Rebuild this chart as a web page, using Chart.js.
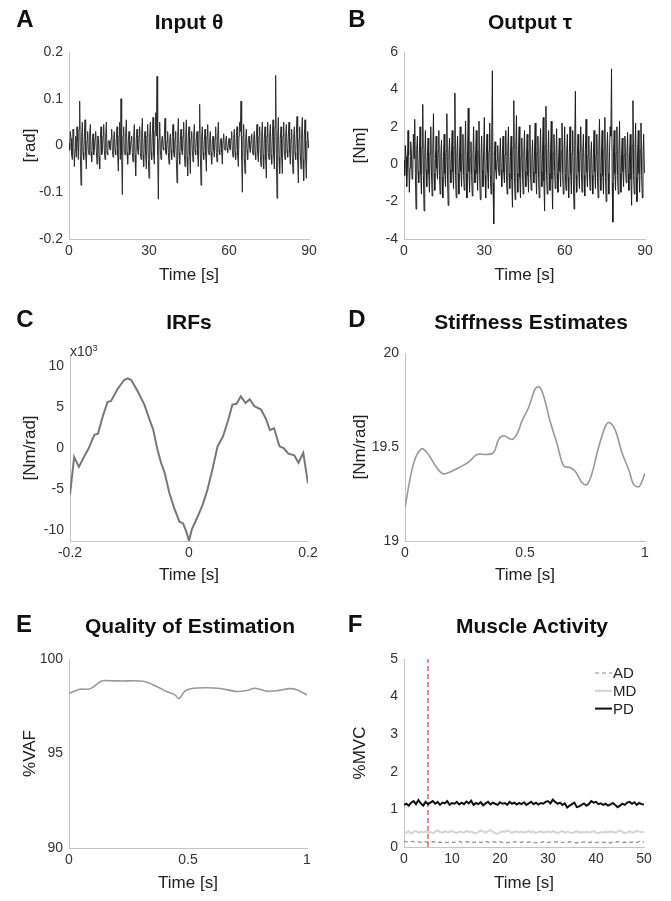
<!DOCTYPE html>
<html>
<head>
<meta charset="utf-8">
<script src="https://cdn.jsdelivr.net/npm/chart.js@4.4.1/dist/chart.umd.min.js"></script>
<style>
  body { margin: 0; background: #fff; width: 671px; height: 901px; position: relative; overflow: hidden;
         font-family: "Liberation Sans", Arial, sans-serif; }
  canvas { position: absolute; }
  .letter, .title { position: absolute; font-weight: bold; color: #111; line-height: 1;
                    transform: translate(-50%, -50%); white-space: nowrap; }
  .letter { font-size: 24px; }
  .title { font-size: 21px; }
  .exp { position: absolute; font-size: 14px; color: #333; line-height: 1; transform: translateY(-50%); }
  .exp sup { font-size: 9px; }
</style>
</head>
<body>
<canvas id="chartA" width="335" height="290" style="left:0;top:0"></canvas>
<canvas id="chartB" width="336" height="290" style="left:335px;top:0"></canvas>
<canvas id="chartC" width="335" height="290" style="left:0;top:300px"></canvas>
<canvas id="chartD" width="336" height="290" style="left:335px;top:300px"></canvas>
<canvas id="chartE" width="335" height="301" style="left:0;top:600px"></canvas>
<canvas id="chartF" width="336" height="301" style="left:335px;top:600px"></canvas>

<div class="letter" style="left:25px;top:18.5px">A</div>
<div class="title" style="left:189px;top:21px">Input θ</div>
<div class="letter" style="left:357px;top:18.5px">B</div>
<div class="title" style="left:530px;top:21px">Output τ</div>
<div class="letter" style="left:25px;top:319px">C</div>
<div class="title" style="left:189px;top:321px">IRFs</div>
<div class="exp" style="left:70px;top:351px">x10<sup>3</sup></div>
<div class="letter" style="left:357px;top:319px">D</div>
<div class="title" style="left:531px;top:321px">Stiffness Estimates</div>
<div class="letter" style="left:24px;top:624px">E</div>
<div class="title" style="left:190px;top:625px">Quality of Estimation</div>
<div class="letter" style="left:355px;top:624px">F</div>
<div class="title" style="left:532px;top:625px">Muscle Activity</div>

<script>
// A: input angle [rad], samples at 0, 0.5, ... 90 s
const inputTheta = [
  0.005, 0.03, -0.02, 0.035, -0.045, 0.02, 0.04, -0.03, 0.095, -0.085,
  0.05, -0.03, 0.055, -0.05, 0.03, -0.02, 0.045, -0.035, 0.025, -0.01,
  0.03, -0.04, 0.02, -0.05, 0.04, -0.015, 0.045, -0.03, 0.05, -0.02,
  0.01, -0.01, 0.035, -0.025, 0.03, -0.02, 0.04, -0.055, 0.05, 0.1,
  -0.105, 0.04, -0.02, 0.055, -0.04, 0.03, -0.01, 0.02, -0.035, 0.045,
  -0.065, 0.035, -0.02, 0.04, -0.03, 0.058, -0.045, 0.03, -0.05, 0.045,
  -0.07, 0.05, -0.03, 0.06, -0.04, 0.07, 0.148, -0.115, 0.05, -0.03,
  0.02, -0.01, 0.058, -0.02, 0.03, -0.04, 0.025, -0.03, 0.045, -0.025,
  0.03, -0.08, 0.058, -0.04, 0.035, -0.02, 0.05, -0.045, 0.055, -0.065,
  0.04, -0.06, 0.03, -0.035, 0.045, -0.02, 0.03, -0.045, 0.088, -0.085,
  0.04, -0.03, 0.035, -0.055, 0.045, -0.02, 0.03, -0.04, 0.02, -0.025,
  0.04, -0.035, 0.05, -0.02, 0.015, -0.04, 0.025, -0.01, 0.02, -0.015,
  0.015, -0.01, 0.03, -0.025, 0.035, -0.03, 0.04, -0.045, 0.05, 0.095,
  -0.1, 0.045, -0.06, 0.035, -0.03, 0.02, -0.015, 0.025, -0.02, 0.03,
  -0.03, 0.045, -0.035, 0.04, -0.045, 0.05, -0.05, 0.04, -0.07, 0.05,
  -0.03, 0.045, -0.04, 0.055, -0.05, 0.15, -0.113, 0.06, -0.06, 0.04,
  -0.06, 0.05, -0.03, 0.045, -0.025, 0.05, -0.04, 0.035, -0.06, 0.04,
  -0.03, 0.062, -0.08, 0.04, -0.05, 0.06, -0.075, 0.055, -0.07, 0.03, 0.01
];
// A: in-between samples at 0.25, 0.75, ... 89.75 s
const inputThetaMid = [
  -0.01, 0.015, -0.03, 0.02, -0.01, -0.025, 0.01, 0.035, -0.02, 0.02,
  -0.015, 0.02, -0.02, 0.01, -0.01, 0.025, -0.015, 0.01, -0.02, 0.015,
  -0.01, 0.02, -0.025, 0.015, -0.02, 0.02, -0.01, 0.02, -0.015, 0.01,
  -0.005, 0.015, -0.01, 0.015, -0.01, 0.015, -0.02, 0.02, -0.03, -0.02,
  0.02, -0.015, 0.025, -0.015, 0.01, -0.02, 0.01, -0.015, 0.02, -0.02,
  0.015, -0.01, 0.02, -0.015, 0.025, -0.02, 0.015, -0.02, 0.02, -0.03,
  0.02, -0.015, 0.025, -0.02, 0.03, 0.02, -0.02, 0.015, -0.01, 0.01,
  -0.005, 0.02, -0.015, 0.01, -0.015, 0.01, -0.01, 0.02, -0.015, 0.015,
  -0.03, 0.02, -0.015, 0.01, -0.01, 0.02, -0.02, 0.015, -0.025, 0.02,
  -0.02, 0.015, -0.01, 0.02, -0.01, 0.015, -0.02, 0.03, -0.02, 0.02,
  -0.015, 0.01, -0.02, 0.02, -0.01, 0.015, -0.015, 0.01, -0.01, 0.015,
  -0.015, 0.02, -0.01, 0.005, -0.015, 0.01, -0.005, 0.01, -0.005, 0.005,
  -0.005, 0.015, -0.01, 0.015, -0.015, 0.02, -0.02, 0.02, 0.03, -0.03,
  0.02, -0.025, 0.015, -0.01, 0.01, -0.005, 0.01, -0.01, 0.015, -0.015,
  0.02, -0.015, 0.02, -0.02, 0.02, -0.02, 0.015, -0.03, 0.02, -0.015,
  0.02, -0.02, 0.02, -0.02, 0.04, -0.02, 0.02, -0.025, 0.015, -0.025,
  0.02, -0.01, 0.02, -0.01, 0.02, -0.015, 0.015, -0.025, 0.015, -0.015,
  0.025, -0.03, 0.015, -0.02, 0.025, -0.03, 0.02, -0.03, 0.01, -0.005
];

// B: output torque [Nm], same sampling as A
const outputTau = [
  0.2, 1.0, -1.2, 1.8, -1.5, 1.2, -0.8, 1.6, 2.4, -2.4,
  1.5, -1.0, 2.0, -1.6, 3.2, -2.5, 1.8, -1.2, 1.4, -1.5,
  2.0, -1.7, 2.7, -1.4, 1.5, -0.8, 1.8, -1.6, 1.3, -1.8,
  1.6, -1.2, 2.7, -2.2, 1.4, -1.0, 1.8, -1.3, 3.8, -1.8,
  1.5, -1.6, 2.0, -1.2, 1.6, -1.4, 2.3, -1.8, 3.0, -1.5,
  1.2, -1.7, 2.0, -1.0, 1.8, -1.4, 2.3, -1.9, 1.5, -1.2,
  2.5, -1.8, 1.6, -1.3, 2.2, -1.6, 5.0, -3.2, 1.2, -0.8,
  1.0, -0.6, 1.4, -1.2, 1.5, -1.0, 1.8, -1.6, 2.0, -1.3,
  1.5, -2.3, 3.4, -1.9, 2.6, -1.5, 2.0, -1.8, 1.4, -1.6,
  1.8, -1.2, 1.6, -1.5, 2.1, -1.4, 1.3, -1.0, 2.2, -1.6,
  1.5, -1.8, 1.9, -1.2, 2.5, -2.5, 3.1, -1.6, 1.8, -1.4,
  2.3, -2.4, 1.6, -1.3, 1.9, -1.5, 1.4, -1.2, 2.2, -1.6,
  2.0, -1.4, 1.6, -1.8, 2.0, -1.6, 1.8, -2.4, 3.9, -1.5,
  1.6, -1.3, 2.0, -1.5, 1.6, -1.7, 2.4, -1.2, 1.5, -1.4,
  1.2, -1.6, 1.8, -1.3, 1.6, -1.8, 2.4, -1.4, 1.8, -1.6,
  2.5, -2.0, 1.7, -1.6, 2.0, 5.1, -3.1, 1.8, -1.4, 2.0,
  -1.6, 2.3, -1.5, 1.4, -1.2, 1.5, -1.0, 1.7, -1.4, 1.6,
  -2.2, 3.4, -1.6, 2.2, -2.0, 1.8, -1.5, 2.2, -1.8, 1.6, -0.5
];
const outputTauMid = [
  -0.6, 0.4, -0.3, 0.5, -0.2, 0.6, -0.7, 0.3, -0.5, 0.8,
  -0.4, 0.6, -0.5, 0.9, -0.6, 0.5, -0.3, 0.4, -0.5, 0.6,
  -0.4, 0.8, -0.5, 0.3, -0.2, 0.7, -0.6, 0.5, -0.7, 0.4,
  -0.5, 0.7, -0.8, 0.5, -0.3, 0.6, -0.4, 0.9, -0.6, 0.5,
  -0.5, 0.6, -0.4, 0.5, -0.6, 0.7, -0.5, 0.8, -0.4, 0.3,
  -0.6, 0.5, -0.3, 0.6, -0.5, 0.7, -0.6, 0.4, -0.3, 0.8,
  -0.6, 0.5, -0.4, 0.7, -0.5, 1.2, -1.0, 0.4, -0.3, 0.2,
  -0.2, 0.4, -0.3, 0.5, -0.4, 0.5, -0.6, 0.7, -0.5, 0.4,
  -0.8, 0.9, -0.7, 0.8, -0.5, 0.6, -0.7, 0.4, -0.5, 0.6,
  -0.4, 0.5, -0.6, 0.7, -0.5, 0.3, -0.4, 0.7, -0.5, 0.6,
  -0.7, 0.6, -0.4, 0.8, -0.9, 1.0, -0.6, 0.5, -0.5, 0.7,
  -0.8, 0.6, -0.4, 0.6, -0.5, 0.4, -0.4, 0.7, -0.6, 0.7,
  -0.5, 0.6, -0.7, 0.6, -0.5, 0.6, -0.9, 1.0, -0.6, 0.5,
  -0.4, 0.7, -0.5, 0.6, -0.6, 0.8, -0.4, 0.5, -0.5, 0.4,
  -0.6, 0.6, -0.4, 0.5, -0.7, 0.8, -0.5, 0.6, -0.6, 0.8,
  -0.7, 0.6, -0.5, 0.7, 1.5, -1.0, 0.7, -0.5, 0.6, -0.6,
  0.7, -0.5, 0.5, -0.4, 0.5, -0.3, 0.6, -0.5, 0.6, -0.8,
  1.0, -0.6, 0.8, -0.7, 0.6, -0.5, 0.8, -0.6, 0.5, -0.3
];
const sampleStep = 0.5;

// C: impulse response [x10^3 Nm/rad]
const irfTime = [
  -0.2, -0.193, -0.185, -0.176, -0.169, -0.159, -0.153, -0.145, -0.137, -0.131,
  -0.12, -0.109, -0.103, -0.097, -0.086, -0.075, -0.067, -0.06, -0.053, -0.047,
  -0.041, -0.033, -0.025, -0.016, -0.01, -0.005, 0, 0.005, 0.015, 0.023,
  0.031, 0.04, 0.048, 0.057, 0.065, 0.073, 0.08, 0.087, 0.095, 0.102,
  0.11, 0.121, 0.129, 0.136, 0.143, 0.152, 0.159, 0.167, 0.177, 0.184,
  0.192, 0.2
];
const irfValue = [
  -5.7, -1.1, -2.3, -1.0, -0.1, 1.6, 1.75, 3.85, 5.6, 5.75,
  7.2, 8.3, 8.5, 8.3, 6.9, 5.3, 3.6, 2.2, -0.2, -1.8,
  -3.0, -5.5, -7.3, -9.0, -9.2, -10.1, -11.3, -9.9, -8.3, -6.9,
  -5.1, -2.4, 0.2, 1.4, 3.2, 5.3, 5.4, 6.3, 5.5, 5.95,
  5.1, 4.7, 3.6, 2.2, 2.4, 0.2, 0.0, -0.7, -0.9, -1.8,
  -0.6, -4.3
];

// D: stiffness estimates [Nm/rad]
const stiffTime = [
  0, 0.035, 0.068, 0.092, 0.127, 0.154, 0.175, 0.224, 0.265, 0.3,
  0.335, 0.369, 0.39, 0.411, 0.446, 0.467, 0.488, 0.515, 0.543, 0.56,
  0.578, 0.606, 0.633, 0.661, 0.689, 0.71, 0.738, 0.758, 0.779, 0.807,
  0.835, 0.851, 0.876, 0.904, 0.932, 0.953, 0.976, 1
];
const stiffValue = [
  19.18, 19.41, 19.49, 19.47, 19.40, 19.36, 19.36, 19.39, 19.42, 19.46,
  19.46, 19.47, 19.54, 19.56, 19.54, 19.57, 19.64, 19.71, 19.81, 19.82,
  19.77, 19.63, 19.52, 19.40, 19.39, 19.37, 19.31, 19.30, 19.36, 19.50,
  19.61, 19.63, 19.59, 19.47, 19.38, 19.30, 19.29, 19.36
];

// E: variance accounted for [%]
const vafTime = [
  0, 0.046, 0.08, 0.1, 0.137, 0.172, 0.214, 0.312, 0.368, 0.41,
  0.445, 0.462, 0.487, 0.523, 0.579, 0.635, 0.705, 0.747, 0.782, 0.831,
  0.873, 0.929, 0.957, 1
];
const vafValue = [
  98.18, 98.4, 98.4, 98.5, 98.84, 98.85, 98.84, 98.82, 98.55, 98.28,
  98.1, 97.9, 98.3, 98.45, 98.48, 98.44, 98.28, 98.33, 98.45, 98.3,
  98.32, 98.43, 98.37, 98.1
];

// F: muscle activity [%MVC], sampled every 0.5 s from 0 to 50 s
const emgAD = [
  0.15, 0.14, 0.13, 0.15, 0.14, 0.13, 0.14, 0.12, 0.13, 0.14,
  0.13, 0.12, 0.14, 0.13, 0.12, 0.13, 0.11, 0.13, 0.12, 0.14,
  0.13, 0.12, 0.14, 0.15, 0.13, 0.12, 0.14, 0.13, 0.15, 0.12,
  0.13, 0.14, 0.12, 0.13, 0.15, 0.13, 0.12, 0.14, 0.13, 0.12,
  0.14, 0.12, 0.13, 0.11, 0.13, 0.12, 0.14, 0.13, 0.12, 0.13,
  0.14, 0.12, 0.13, 0.14, 0.12, 0.11, 0.13, 0.12, 0.14, 0.13,
  0.12, 0.13, 0.12, 0.14, 0.13, 0.11, 0.12, 0.13, 0.12, 0.14,
  0.13, 0.12, 0.11, 0.13, 0.12, 0.14, 0.13, 0.12, 0.13, 0.11,
  0.12, 0.13, 0.14, 0.12, 0.13, 0.12, 0.11, 0.13, 0.12, 0.14,
  0.13, 0.12, 0.13, 0.11, 0.12, 0.13, 0.14, 0.12, 0.15, 0.14,
  0.13
];
const emgMD = [
  0.40, 0.38, 0.42, 0.36, 0.40, 0.43, 0.38, 0.41, 0.39, 0.42,
  0.38, 0.40, 0.37, 0.41, 0.44, 0.40, 0.38, 0.42, 0.39, 0.40,
  0.43, 0.39, 0.37, 0.41, 0.40, 0.38, 0.43, 0.40, 0.41, 0.38,
  0.36, 0.40, 0.44, 0.41, 0.38, 0.42, 0.45, 0.40, 0.37, 0.35,
  0.39, 0.42, 0.40, 0.44, 0.41, 0.38, 0.40, 0.42, 0.39, 0.41,
  0.38, 0.40, 0.43, 0.39, 0.41, 0.37, 0.40, 0.42, 0.38, 0.40,
  0.41, 0.39, 0.42, 0.40, 0.37, 0.40, 0.43, 0.38, 0.41, 0.39,
  0.37, 0.40, 0.42, 0.38, 0.40, 0.39, 0.41, 0.38, 0.40, 0.42,
  0.39, 0.37, 0.40, 0.38, 0.41, 0.39, 0.42, 0.40, 0.38, 0.41,
  0.44, 0.40, 0.37, 0.39, 0.42, 0.38, 0.40, 0.43, 0.41, 0.39,
  0.40
];
const emgPD = [
  1.12, 1.15, 1.10, 1.18, 1.22, 1.14, 1.25, 1.16, 1.10, 1.20,
  1.14, 1.18, 1.22, 1.15, 1.20, 1.12, 1.18, 1.16, 1.22, 1.12,
  1.17, 1.15, 1.20, 1.13, 1.18, 1.14, 1.21, 1.16, 1.23, 1.12,
  1.17, 1.14, 1.19, 1.11, 1.16, 1.20, 1.13, 1.18, 1.15, 1.12,
  1.19, 1.15, 1.17, 1.12, 1.20, 1.15, 1.18, 1.13, 1.17, 1.14,
  1.19, 1.12, 1.16, 1.20, 1.14, 1.18, 1.13, 1.17, 1.15, 1.20,
  1.22, 1.16, 1.26, 1.20, 1.15, 1.18, 1.12, 1.16, 1.05, 1.10,
  1.14, 1.18, 1.06, 1.08, 1.12, 1.16, 1.10, 1.14, 1.22, 1.18,
  1.20, 1.14, 1.16, 1.12, 1.15, 1.10, 1.13, 1.17, 1.12, 1.06,
  1.10, 1.15, 1.12, 1.18, 1.20, 1.15, 1.19, 1.12, 1.17, 1.14,
  1.13
];
const muscleLabels = ['AD', 'MD', 'PD'];
const markerTime = 5;

// tick values
const ticksAx = [0, 30, 60, 90];
const ticksAy = [-0.2, -0.1, 0, 0.1, 0.2];
const ticksBy = [-4, -2, 0, 2, 4, 6];
const ticksCx = [-0.2, 0, 0.2];
const ticksCy = [-10, -5, 0, 5, 10];
const ticksDy = [19, 19.5, 20];
const ticksUnit = [0, 0.5, 1];
const ticksEy = [90, 95, 100];
const ticksFx = [0, 10, 20, 30, 40, 50];
const ticksFy = [0, 1, 2, 3, 4, 5];

Chart.defaults.font.family = '"Liberation Sans", Arial, sans-serif';

function series(xs, ys) {
  return ys.map((y, i) => ({ x: xs[i], y: y }));
}
function sampled(ys, step) {
  return ys.map((y, i) => ({ x: i * step, y: y }));
}
// merge the on-grid samples with the half-step samples, in time order
function interleave(main, mid, step) {
  const pts = [];
  main.forEach((y, i) => {
    pts.push({ x: i * step, y: y });
    if (i < mid.length) pts.push({ x: i * step + step / 2, y: mid[i] });
  });
  return pts;
}

function axis(ticks, range, title, extra) {
  return Object.assign({
    type: 'linear',
    min: range[0],
    max: range[1],
    afterBuildTicks: s => { s.ticks = ticks.map(v => ({ value: v })); },
    grid: { display: false, drawTicks: false },
    border: { display: true, color: '#c4c4c4', width: 1 },
    ticks: { color: '#333', font: { size: 14 }, autoSkip: false, maxRotation: 0, callback: v => String(v) },
    title: { display: true, text: title, color: '#222', font: { size: 17 } }
  }, extra);
}

function panel(id, cfg) {
  return new Chart(document.getElementById(id), {
    type: 'line',
    data: { datasets: cfg.datasets },
    options: {
      responsive: false,
      animation: false,
      layout: { padding: { top: cfg.top, right: cfg.right, left: 0, bottom: 0 } },
      plugins: { legend: { display: false }, tooltip: { enabled: false } },
      elements: { point: { radius: 0 }, line: { tension: 0 } },
      scales: {
        x: axis(cfg.xTicks, cfg.xRange, 'Time [s]', {
          afterFit: s => { s.height = cfg.xh; }
        }),
        y: axis(cfg.yTicks, cfg.yRange, cfg.yTitle, {
          afterFit: s => { s.width = cfg.yw; }
        })
      }
    },
    plugins: cfg.plugins || []
  });
}

function tune(chart, ytPad, xtPad) {
  chart.options.scales.y.title.padding = { top: ytPad, bottom: 0 };
  chart.options.scales.y.ticks.padding = 6;
  chart.options.scales.x.title.padding = { top: 0, bottom: xtPad };
  chart.options.scales.x.ticks.padding = 4;
  chart.update();
}

const chartA = panel('chartA', {
  datasets: [{ data: interleave(inputTheta, inputThetaMid, sampleStep), borderColor: '#2e2e2e', borderWidth: 1 }],
  xTicks: ticksAx, xRange: [0, 90], yTicks: ticksAy, yRange: [-0.2, 0.2], yTitle: '[rad]',
  top: 52, right: 26, xh: 51, yw: 69
});
tune(chartA, 19.8, 4.8);

const chartB = panel('chartB', {
  datasets: [{ data: interleave(outputTau, outputTauMid, sampleStep), borderColor: '#1e1e1e', borderWidth: 1 }],
  xTicks: ticksAx, xRange: [0, 90], yTicks: ticksBy, yRange: [-4, 6], yTitle: '[Nm]',
  top: 52, right: 26, xh: 51, yw: 69
});
tune(chartB, 14.8, 4.8);

const chartC = panel('chartC', {
  datasets: [{ data: series(irfTime, irfValue), borderColor: '#787878', borderWidth: 2 }],
  xTicks: ticksCx, xRange: [-0.2, 0.2], yTicks: ticksCy, yRange: [-11.35, 11.35], yTitle: '[Nm/rad]',
  top: 55, right: 27, xh: 49, yw: 70
});
tune(chartC, 19.8, 4.8);

const chartD = panel('chartD', {
  datasets: [{ data: series(stiffTime, stiffValue), borderColor: '#999', borderWidth: 1.6, tension: 0.35 }],
  xTicks: ticksUnit, xRange: [0, 1], yTicks: ticksDy, yRange: [19, 20], yTitle: '[Nm/rad]',
  top: 53, right: 26, xh: 49, yw: 70
});
tune(chartD, 14.8, 4.8);

const chartE = panel('chartE', {
  datasets: [{ data: series(vafTime, vafValue), borderColor: '#999', borderWidth: 1.6, tension: 0.3 }],
  xTicks: ticksUnit, xRange: [0, 1], yTicks: ticksEy, yRange: [90, 100], yTitle: '%VAF',
  top: 59, right: 28, xh: 53, yw: 69
});
tune(chartE, 19.8, 7.8);

const muscleLegend = {
  id: 'muscleLegend',
  afterDraw(chart) {
    const ctx = chart.ctx;
    const area = chart.chartArea;
    ctx.save();
    ctx.font = '15px "Liberation Sans", Arial, sans-serif';
    ctx.textBaseline = 'middle';
    ctx.fillStyle = '#222';
    muscleLabels.forEach((label, k) => {
      const ds = chart.data.datasets[k];
      const y = area.top + 14 + k * 17.8;
      ctx.strokeStyle = ds.borderColor;
      ctx.lineWidth = ds.borderWidth;
      ctx.setLineDash(ds.borderDash || []);
      ctx.beginPath();
      ctx.moveTo(area.right - 49, y);
      ctx.lineTo(area.right - 32, y);
      ctx.stroke();
      ctx.setLineDash([]);
      ctx.fillText(label, area.right - 31, y + 1);
    });
    ctx.restore();
  }
};

const chartF = panel('chartF', {
  datasets: [
    { label: muscleLabels[0], data: sampled(emgAD, sampleStep), borderColor: '#8c8c8c', borderWidth: 1.2, borderDash: [4, 3] },
    { label: muscleLabels[1], data: sampled(emgMD, sampleStep), borderColor: '#d4d4d4', borderWidth: 2 },
    { label: muscleLabels[2], data: sampled(emgPD, sampleStep), borderColor: '#111', borderWidth: 2 },
    { label: 'marker', data: [{ x: markerTime, y: 0 }, { x: markerTime, y: 5 }], borderColor: '#e8606c', borderWidth: 1.5, borderDash: [5, 3] }
  ],
  xTicks: ticksFx, xRange: [0, 50], yTicks: ticksFy, yRange: [0, 5], yTitle: '%MVC',
  top: 59, right: 27, xh: 54, yw: 69,
  plugins: [muscleLegend]
});
tune(chartF, 14.8, 7.8);
</script>
</body>
</html>
